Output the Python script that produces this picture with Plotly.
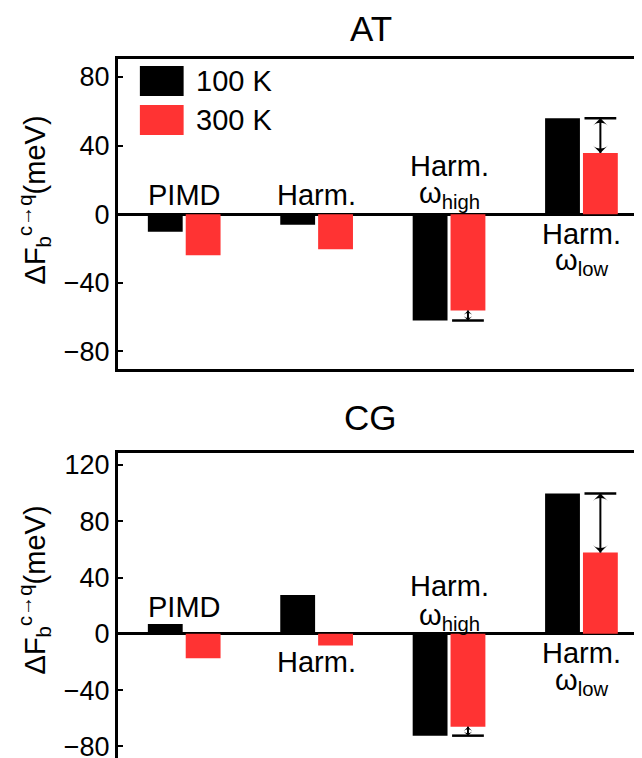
import plotly.graph_objects as go

# ---------------- data ----------------
categories = ["PIMD", "Harm.", "Harm. ω_high", "Harm. ω_low"]
series_names = ["100 K", "300 K"]
at_100K = [-10.3, -6.2, -62.0, 56.0]
at_300K = [-23.9, -20.5, -56.2, 35.7]
cg_100K = [6.9, 27.5, -72.4, 99.7]
cg_300K = [-17.3, -8.3, -66.0, 57.7]
panel_titles = ["AT", "CG"]
at_ticks = [-80, -40, 0, 40, 80]
cg_ticks = [-80, -40, 0, 40, 80, 120]

# ---------------- styling ----------------
BLACK = "#000000"
RED = "#FF3333"
FONT = "Liberation Sans, Arial, Helvetica, sans-serif"
W, H = 642, 758
ML, MR, MT, MB = 110, 2, 51, 7
PW, PH = W - ML - MR, H - MT - MB


def px_x(p):
    return (p - ML) / PW


def px_y(p):
    return (H - MB - p) / PH


xpos = list(range(1, len(categories) + 1))
HALF = 0.143  # center offset of each bar within a group (from bargap settings)

fig = go.Figure()
panels = [
    ("x", "y", at_100K, at_300K),
    ("x2", "y2", cg_100K, cg_300K),
]
for xa, ya, v100, v300 in panels:
    fig.add_trace(go.Bar(x=xpos, y=v100, name=series_names[0], marker=dict(color=BLACK, line=dict(width=0)),
                         xaxis=xa, yaxis=ya, showlegend=False))
    fig.add_trace(go.Bar(x=xpos, y=v300, name=series_names[1], marker=dict(color=RED, line=dict(width=0)),
                         xaxis=xa, yaxis=ya, showlegend=False))

# temperature-difference indicators (double arrows) for the Harm. ω groups
shapes = []
for xa, ya, v100, v300 in panels:
    for i in [2, 3]:
        xc = xpos[i] + HALF
        top, bot = max(v100[i], v300[i]), min(v100[i], v300[i])
        head = 11 if abs(v100[i] - v300[i]) > 10 else 6
        fig.add_trace(go.Scatter(x=[xc, xc], y=[top, bot], mode="lines+markers", xaxis=xa, yaxis=ya,
                                 line=dict(color="black", width=2),
                                 marker=dict(symbol="arrow-wide", size=head, color="black", angle=[0, 180],
                                             line=dict(width=0)),
                                 showlegend=False, hoverinfo="skip", cliponaxis=False))
        shapes.append(dict(type="line", xref=xa, yref=ya, x0=xc - 0.12, x1=xc + 0.12,
                           y0=v100[i], y1=v100[i], line=dict(color="black", width=2.5)))

axis_common = dict(showline=True, linecolor="black", linewidth=3, mirror=True, showgrid=False)
TICKFONT = dict(size=27, family=FONT)
top_bottom_px = 360.5
bot_top_px = 445
fig.update_layout(
    width=W, height=H,
    margin=dict(l=ML, r=MR, t=MT, b=MB),
    paper_bgcolor="white", plot_bgcolor="white",
    barmode="group", bargap=0.428, bargroupgap=0.08,
    font=dict(family=FONT, color="black", size=28),
    xaxis=dict(domain=[0, 1], anchor="y", range=[0.5, 4.48], showticklabels=False, ticks="",
               zeroline=False, **axis_common),
    yaxis=dict(domain=[px_y(top_bottom_px), 1], anchor="x", range=[-90, 90.5], tickvals=at_ticks,
               ticks="inside", ticklen=5, tickwidth=2, tickcolor="black",
               zeroline=True, zerolinecolor="black", zerolinewidth=2.5, layer="above traces",
               tickfont=TICKFONT, **{**axis_common, "mirror": "ticks"}),
    xaxis2=dict(domain=[0, 1], anchor="y2", range=[0.5, 4.48], showticklabels=False, ticks="",
                zeroline=False, **axis_common),
    yaxis2=dict(domain=[0, px_y(bot_top_px)], anchor="x2", range=[-89, 128.5], tickvals=cg_ticks,
                ticks="inside", ticklen=5, tickwidth=2, tickcolor="black",
                zeroline=True, zerolinecolor="black", zerolinewidth=2.5, layer="above traces",
                tickfont=TICKFONT, **{**axis_common, "mirror": "ticks"}),
)

annotations = []

# panel titles
for title, py in zip(panel_titles, [21, 409]):
    annotations.append(dict(text=title, xref="paper", yref="paper", x=px_x(364), y=px_y(py),
                            xanchor="center", yanchor="middle", showarrow=False,
                            font=dict(size=35, family=FONT)))

# y-axis titles (rotated)
ylabel = "ΔF<sub>b</sub><sup>c→q</sup>(meV)"
for py in [192, 582]:
    annotations.append(dict(text=ylabel, xref="paper", yref="paper", x=px_x(26), y=px_y(py),
                            xanchor="center", yanchor="middle", showarrow=False, textangle=-90,
                            font=dict(size=29, family=FONT)))

# category labels: (text, category index, y in data units)
at_labels = [("PIMD", 1, 11), ("Harm.", 2, 11), ("Harm.", 3, 28), ("ω<sub>high</sub>", 3, 11),
             ("Harm.", 4, -11.5), ("ω<sub>low</sub>", 4, -28)]
cg_labels = [("PIMD", 1, 19), ("Harm.", 2, -20), ("Harm.", 3, 34), ("ω<sub>high</sub>", 3, 12),
             ("Harm.", 4, -14), ("ω<sub>low</sub>", 4, -34)]
for (xa, ya), labels in zip([("x", "y"), ("x2", "y2")], [at_labels, cg_labels]):
    for txt, cx, cy in labels:
        annotations.append(dict(text=txt, xref=xa, yref=ya, x=cx, y=cy, xanchor="center",
                                yanchor="middle", showarrow=False, font=dict(size=29, family=FONT)))

# legend (drawn as swatches + text in the top panel)
for name, col, (y0, y1) in zip(series_names, [BLACK, RED], [(58, 88), (97, 127)]):
    shapes.append(dict(type="rect", xref="paper", yref="paper", x0=px_x(132), x1=px_x(176),
                       y0=px_y(y1), y1=px_y(y0), fillcolor=col, line=dict(width=0)))
    annotations.append(dict(text=name, xref="paper", yref="paper", x=px_x(186), y=px_y((y0 + y1) / 2),
                            xanchor="left", yanchor="middle", showarrow=False,
                            font=dict(size=29, family=FONT)))

fig.update_layout(annotations=annotations, shapes=shapes)
fig.write_html("out.html")
